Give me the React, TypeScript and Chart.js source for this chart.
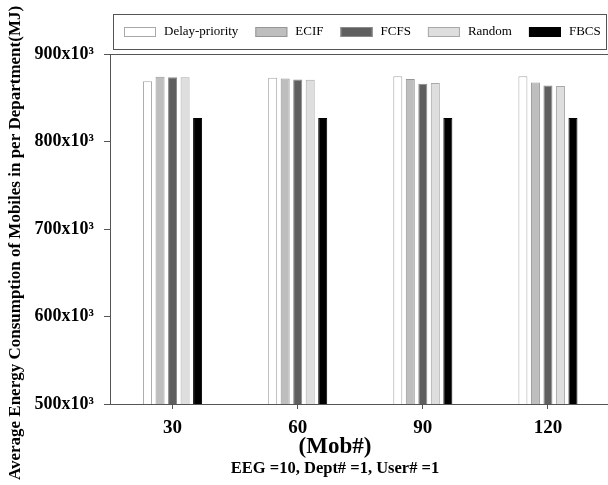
import { useEffect, useRef } from "react";
import { Chart, registerables } from "chart.js";

Chart.register(...registerables);

// Mobile counts per run (x axis)
const categories = ["30", "60", "90", "120"];
// Average energy per department, in units of 10^3 MJ
const delayPriority = [869, 873, 874.5, 874.5];
const ecif = [874, 872, 871.5, 867.5];
const fcfs = [873.5, 871, 866, 864];
const randomSched = [873.5, 870.5, 867, 863.5];
const fbcs = [827, 827, 827, 827];
const yTickValues = [500, 600, 700, 800, 900];

const SERIF = "'Liberation Serif', 'Times New Roman', serif";

const yTitle = "Average Energy Consumption of Mobiles in per Department(MJ)";
const xTitle = "(Mob#)";
const xSubtitle = "EEG =10, Dept# =1, User# =1";

const decorPlugin = {
  id: "decor",
  afterDraw(chart: any) {
    const { ctx, chartArea } = chart;
    ctx.save();

    // top frame line
    ctx.strokeStyle = "#555";
    ctx.lineWidth = 1;
    ctx.beginPath();
    ctx.moveTo(chartArea.left, Math.round(chartArea.top) + 0.5);
    ctx.lineTo(chartArea.right, Math.round(chartArea.top) + 0.5);
    ctx.stroke();

    // legend frame and entries
    const boxX = 113;
    const boxY = 14;
    const boxW = 493;
    const boxH = 35;
    ctx.strokeStyle = "#555";
    ctx.strokeRect(boxX + 0.5, boxY + 0.5, boxW, boxH);
    ctx.font = `13px ${SERIF}`;
    ctx.textBaseline = "middle";
    ctx.textAlign = "left";
    let x = 124;
    const cy = boxY + boxH / 2 + 0.5;
    chart.data.datasets.forEach((ds: any) => {
      ctx.fillStyle = ds.backgroundColor;
      ctx.fillRect(x, cy - 5, 32, 10);
      ctx.strokeStyle = ds.borderColor;
      ctx.lineWidth = 1;
      ctx.strokeRect(x + 0.5, cy - 5 + 0.5, 31, 9);
      x += 32 + 8;
      ctx.fillStyle = "#000";
      ctx.fillText(ds.label, x, cy);
      x += ctx.measureText(ds.label).width + 17;
    });

    // axis titles
    ctx.fillStyle = "#000";
    ctx.textAlign = "center";
    ctx.font = `bold 17px ${SERIF}`;
    ctx.save();
    ctx.translate(16, 243);
    ctx.rotate(-Math.PI / 2);
    ctx.fillText(yTitle, 0, 0);
    ctx.restore();

    const cx = 335;
    ctx.font = `bold 23px ${SERIF}`;
    ctx.fillText(xTitle, cx, 447);
    ctx.font = `bold 16.5px ${SERIF}`;
    ctx.fillText(xSubtitle, cx, 469);

    ctx.restore();
  },
};

export default function App() {
  const canvasRef = useRef<HTMLCanvasElement | null>(null);

  useEffect(() => {
    const canvas = canvasRef.current;
    if (!canvas) return;
    const chart = new Chart(canvas, {
      type: "bar",
      data: {
        labels: categories,
        datasets: [
          { label: "Delay-priority", data: delayPriority, backgroundColor: "#ffffff", borderColor: "#a8a8a8" },
          { label: "ECIF", data: ecif, backgroundColor: "#bebebe", borderColor: "#969696" },
          { label: "FCFS", data: fcfs, backgroundColor: "#5f5f5f", borderColor: "#8a8a8a" },
          { label: "Random", data: randomSched, backgroundColor: "#dedede", borderColor: "#a8a8a8" },
          { label: "FBCS", data: fbcs, backgroundColor: "#000000", borderColor: "#000000" },
        ].map((d) => ({ ...d, borderWidth: 1, categoryPercentage: 0.5, barPercentage: 0.72 })),
      },
      options: {
        animation: false,
        responsive: false,
        devicePixelRatio: 1,
        layout: { padding: { top: 54, right: 1.5, left: 0, bottom: 0 } },
        plugins: {
          legend: { display: false },
          tooltip: { enabled: false },
        },
        scales: {
          x: {
            type: "category",
            offset: true,
            grid: { offset: false, drawOnChartArea: false, drawTicks: true, tickLength: 5, color: "#555" },
            border: { color: "#555", width: 1 },
            ticks: {
              color: "#000",
              font: { family: SERIF, size: 19, weight: "bold" },
              padding: 8,
            },
            afterFit(scale: any) {
              scale.height = 81;
            },
          },
          y: {
            min: 500,
            max: 900,
            afterBuildTicks(scale: any) {
              scale.ticks = yTickValues.map((v) => ({ value: v }));
            },
            grid: { drawOnChartArea: false, drawTicks: true, tickLength: 6, color: "#555" },
            border: { color: "#555", width: 1 },
            ticks: {
              color: "#000",
              font: { family: SERIF, size: 18, weight: "bold" },
              padding: 10,
              callback: (v: any) => `${v}x10³`,
            },
            afterFit(scale: any) {
              scale.width = 110;
            },
          },
        },
      },
      plugins: [decorPlugin],
    });
    return () => chart.destroy();
  }, []);

  return (
    <div style={{ position: "absolute", left: 0, top: 0, width: 608, height: 485, overflow: "hidden", background: "#fff" }}>
      <canvas ref={canvasRef} width={612} height={485} style={{ display: "block" }} />
    </div>
  );
}
